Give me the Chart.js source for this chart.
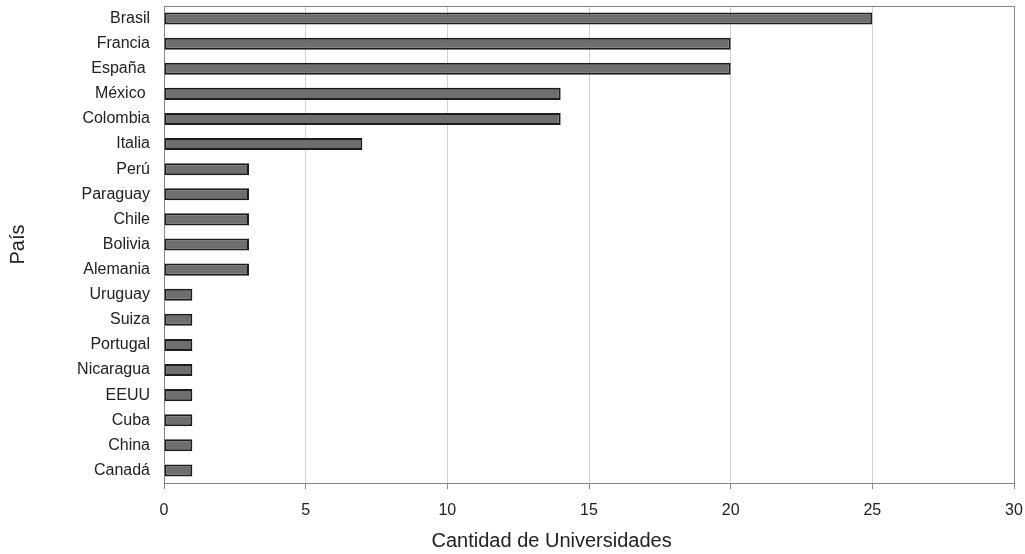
<!DOCTYPE html>
<html>
<head>
<meta charset="utf-8">
<script src="https://cdn.jsdelivr.net/npm/chart.js@4"></script>
<style>
  body { margin: 0; background: #fff; }
  canvas { display: block; }
</style>
</head>
<body>
<canvas id="uniChart" width="1025" height="554"></canvas>
<script>
const countries = [
  "Brasil", "Francia", "España ", "México ", "Colombia", "Italia", "Perú",
  "Paraguay", "Chile", "Bolivia", "Alemania", "Uruguay", "Suiza", "Portugal",
  "Nicaragua", "EEUU", "Cuba", "China", "Canadá"
];
const universities = [25, 20, 20, 14, 14, 7, 3, 3, 3, 3, 3, 1, 1, 1, 1, 1, 1, 1, 1];
const xTitle = "Cantidad de Universidades";
const yTitle = "País";

const FONT = "'Liberation Sans', Arial, sans-serif";
const AXIS_GRAY = "#868686";

// top border of the plot + x axis title (sits left of plot centre in the original)
const framePlugin = {
  id: "frame",
  afterDraw(chart) {
    const { ctx, chartArea } = chart;
    ctx.save();
    ctx.strokeStyle = AXIS_GRAY;
    ctx.lineWidth = 1;
    ctx.beginPath();
    ctx.moveTo(chartArea.left, chartArea.top + 0.5);
    ctx.lineTo(chartArea.right, chartArea.top + 0.5);
    ctx.stroke();

    ctx.fillStyle = "#222";
    ctx.font = "20px " + FONT;
    ctx.textAlign = "center";
    ctx.textBaseline = "middle";
    const cx = chartArea.left + (chartArea.right - chartArea.left) * 0.456;
    ctx.fillText(xTitle, cx, chart.height - 13);
    ctx.restore();
  },
};

new Chart(document.getElementById("uniChart"), {
  type: "bar",
  data: {
    labels: countries,
    datasets: [
      {
        data: universities,
        backgroundColor: "#6e6e6e",
        borderColor: "#1c1c1c",
        borderWidth: 2,
        borderSkipped: false,
        categoryPercentage: 1,
        barPercentage: 0.48,
      },
    ],
  },
  options: {
    indexAxis: "y",
    responsive: false,
    animation: false,
    layout: { padding: { top: 6, right: 11, left: 0, bottom: 0 } },
    plugins: {
      legend: { display: false },
      tooltip: { enabled: false },
    },
    scales: {
      x: {
        min: 0,
        max: 30,
        ticks: {
          stepSize: 5,
          padding: 12,
          color: "#222",
          font: { family: FONT, size: 16 },
        },
        grid: {
          color: (c) => (c.tick && (c.tick.value === 30 || c.tick.value === 0) ? AXIS_GRAY : "#d2d2d2"),
          tickColor: AXIS_GRAY,
          tickLength: 6,
        },
        border: { color: AXIS_GRAY },
        afterFit: (scale) => {
          scale.height = 71;
          scale.paddingLeft = 0;
          scale.paddingRight = 0;
        },
      },
      y: {
        ticks: {
          autoSkip: false,
          padding: 14,
          color: "#222",
          font: { family: FONT, size: 16 },
        },
        grid: { display: false, drawTicks: false },
        border: { color: AXIS_GRAY },
        title: {
          display: true,
          text: yTitle,
          color: "#222",
          font: { family: FONT, size: 20 },
          padding: { top: 6, bottom: 0 },
        },
        afterFit: (scale) => {
          scale.width = 164;
          scale.paddingTop = 0;
          scale.paddingBottom = 0;
        },
      },
    },
  },
  plugins: [framePlugin],
});
</script>
</body>
</html>
